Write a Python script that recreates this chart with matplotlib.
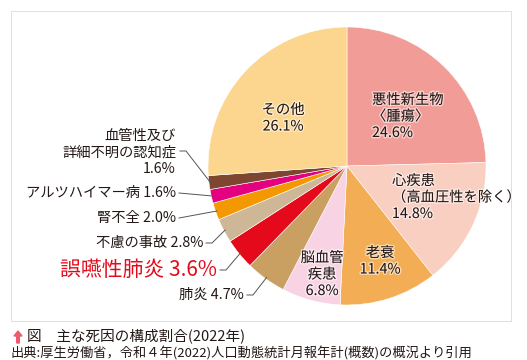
import matplotlib
matplotlib.use("Agg")
import matplotlib.pyplot as plt
import matplotlib.patheffects as pe
from matplotlib.patches import Rectangle
import numpy as np

plt.rcParams['font.family'] = ['Noto Sans CJK JP', 'DejaVu Sans']

# data (clockwise from 12 o'clock)
causes = ["悪性新生物〈腫瘍〉", "心疾患（高血圧性を除く）", "老衰", "脳血管疾患", "肺炎",
          "誤嚥性肺炎", "不慮の事故", "腎不全", "アルツハイマー病",
          "血管性及び詳細不明の認知症", "その他"]
shares = [24.6, 14.8, 11.4, 6.8, 4.7, 3.6, 2.8, 2.0, 1.6, 1.6, 26.1]
colors = ["#F19C97", "#F9CFC2", "#F3AE55", "#F8D3E3", "#C9A062", "#E50A1B",
          "#CDB796", "#F39800", "#E4007F", "#7E4530", "#FCD58E"]

W, H = 527, 360
fig = plt.figure(figsize=(W / 100, H / 100), dpi=100)
ax = fig.add_axes([0, 0, 1, 1])

def Y(y):  # image y (down) -> axes y (up)
    return H - y

# card
ax.add_patch(Rectangle((12, Y(322)), 500, 310, facecolor="#e9e9e9", edgecolor="none", zorder=0))
ax.add_patch(Rectangle((11, Y(321)), 500, 310, facecolor="white", edgecolor="#dcdcdc", lw=0.6, zorder=0.5))

cx, cy, r = 347, Y(166), 139
wedges, _ = ax.pie(shares, colors=colors, startangle=90, counterclock=False,
                   center=(cx, cy), radius=r,
                   wedgeprops=dict(edgecolor="white", linewidth=0.4))

ax.set_xlim(0, W)
ax.set_ylim(0, H)
ax.set_aspect("auto")
ax.axis("off")

halo = [pe.withStroke(linewidth=2, foreground="white", alpha=0.55)]
fs = 10.3

def inner(x, y, lines, ha="center"):
    for i, s in enumerate(lines):
        ax.text(x, Y(y + i * 16.5), s, ha=ha, va="center", fontsize=fs,
                color="#231815", path_effects=halo)

inner(372, 100, ["悪性新生物", "〈腫瘍〉", "24.6%"], ha="left")
inner(392, 181, ["心疾患", "（高血圧性を除く）", "14.8%"], ha="left")
inner(380, 253, ["老衰", "11.4%"])
inner(322, 258, ["脳血管", "疾患", "6.8%"])
inner(283, 110, ["その他", "26.1%"])

# outside labels with leader lines
cum = np.cumsum([0] + shares)

def edge_point(i, frac=1.0):
    mid = (cum[i] + cum[i + 1]) / 2 / 100
    ang = np.deg2rad(90 - mid * 360)
    return cx + r * frac * np.cos(ang), cy + r * frac * np.sin(ang)

def outer(i, x, y, text, color="#231815", size=fs, kink=True):
    ax.text(x, Y(y), text, ha="right", va="center", fontsize=size, color=color)
    ex, ey = edge_point(i, 0.99)
    xs = [x + 3, x + 9, ex] if kink else [x + 3, ex]
    ys = [Y(y), Y(y), ey] if kink else [Y(y), ey]
    ax.plot(xs, ys, color="#555555", lw=0.7)

for k, s in enumerate(["血管性及び", "詳細不明の認知症", "1.6%"]):
    ax.text(176, Y(136 + k * 16.5), s, ha="right", va="center", fontsize=fs, color="#231815")
ex, ey = edge_point(9, 0.99)
ax.plot([180, 186, ex], [Y(151), Y(151), ey], color="#555555", lw=0.7)

outer(8, 176, 193, "アルツハイマー病 1.6%", kink=False)
outer(7, 176, 218, "腎不全 2.0%", kink=False)
outer(6, 203, 243, "不慮の事故 2.8%")
outer(5, 217, 270, "誤嚥性肺炎 3.6%", color="#E50A1B", size=15)
outer(4, 244, 295, "肺炎 4.7%")

# caption
ax.arrow(18, Y(343), 0, 7, width=2.6, head_width=8, head_length=5,
         color="#EE5A6E", length_includes_head=False)
ax.text(27, Y(336), "図　主な死因の構成割合(2022年)", ha="left", va="center",
        fontsize=10.5, color="#231815")
ax.text(10, Y(353), "出典:厚生労働省，令和４年(2022)人口動態統計月報年計(概数)の概況より引用",
        ha="left", va="center", fontsize=9.5, color="#231815")

fig.savefig("out.png", dpi=100)
